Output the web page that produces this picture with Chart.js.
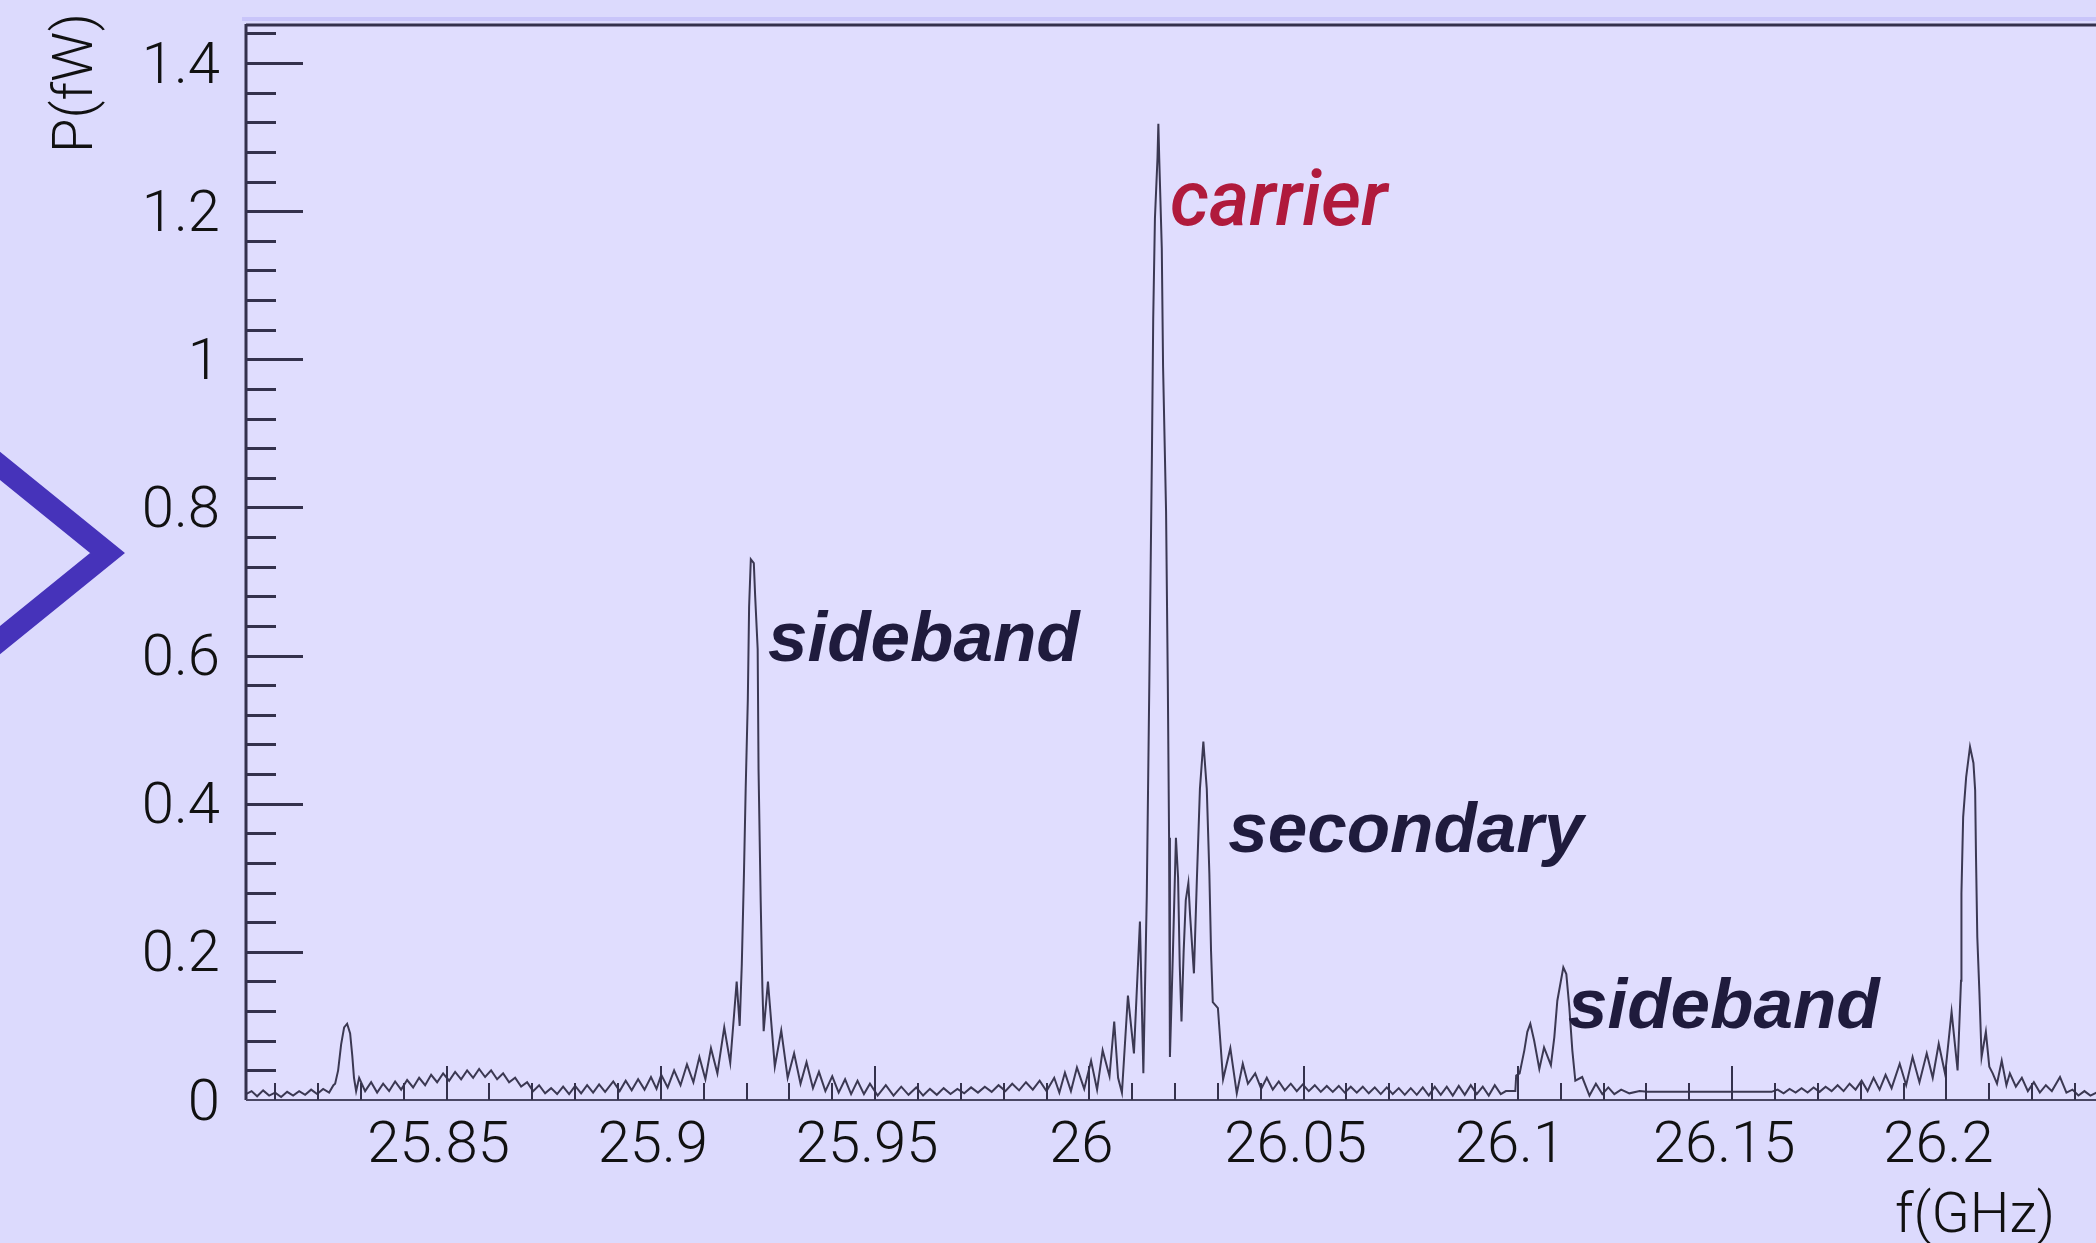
<!DOCTYPE html>
<html>
<head>
<meta charset="utf-8">
<title>P(fW) spectrum</title>
<script src="https://cdn.jsdelivr.net/npm/chart.js@4.4.1/dist/chart.umd.min.js"></script>
<style>
  html, body { margin: 0; padding: 0; background: #dcdafd; overflow: hidden; }
  #spectrum { display: block; }
</style>
</head>
<body>
<canvas id="spectrum" width="2096" height="1243"></canvas>
<script>
// measured spectrum: frequency (GHz) and power (fW)
const freqGHz = [
  25.8032, 25.8045, 25.8058, 25.8072, 25.8086, 25.8100, 25.8114, 25.8128, 25.8142, 25.8156,
  25.8170, 25.8184, 25.8198, 25.8212, 25.8226, 25.8236,
  25.8240, 25.8247, 25.8254, 25.8261, 25.8268, 25.8275, 25.8280, 25.8284, 25.8289,
  25.8296, 25.8310, 25.8324, 25.8338, 25.8352, 25.8366, 25.8380, 25.8394, 25.8408, 25.8422,
  25.8436, 25.8450, 25.8464, 25.8478, 25.8492, 25.8506, 25.8520, 25.8534, 25.8548, 25.8562,
  25.8576, 25.8590, 25.8604, 25.8618, 25.8632, 25.8646, 25.8660, 25.8674, 25.8688, 25.8702,
  25.8716, 25.8730, 25.8744, 25.8758,
  25.8772, 25.8786, 25.8800, 25.8814, 25.8828, 25.8842, 25.8856, 25.8870, 25.8889, 25.8904,
  25.8918, 25.8932, 25.8947, 25.8962, 25.8977, 25.8990, 25.9001, 25.9016, 25.9031, 25.9046,
  25.9061, 25.9076, 25.9090, 25.9104, 25.9117, 25.9132, 25.9148, 25.9162, 25.9177, 25.9184,
  25.9189, 25.9194, 25.9198, 25.9203, 25.9206, 25.9210, 25.9217, 25.9220, 25.9226, 25.9228,
  25.9233, 25.9237, 25.9240, 25.9250, 25.9266, 25.9281, 25.9296, 25.9311, 25.9326, 25.9340,
  25.9355, 25.9369, 25.9384, 25.9400, 25.9415, 25.9430, 25.9444, 25.9459, 25.9474, 25.9488,
  25.9506, 25.9525, 25.9543, 25.9561, 25.9578, 25.9596,
  25.9612, 25.9628, 25.9644, 25.9660, 25.9676, 25.9692, 25.9708, 25.9724, 25.9740, 25.9756,
  25.9772, 25.9788, 25.9804, 25.9820, 25.9836, 25.9852, 25.9868, 25.9884, 25.9900, 25.9918,
  25.9930, 25.9943, 25.9957, 25.9971, 25.9988, 26.0004, 26.0018, 26.0031, 26.0047, 26.0058,
  26.0067, 26.0076, 26.0090, 26.0104, 26.0118, 26.0126,
  26.0134, 26.0140, 26.0146, 26.0149, 26.0153, 26.0159, 26.0161, 26.0163, 26.0169, 26.0172,
  26.0179, 26.0183, 26.0186, 26.0188, 26.0195, 26.0202, 26.0207, 26.0211, 26.0215, 26.0220,
  26.0225, 26.0231, 26.0235, 26.0244, 26.0251, 26.0258, 26.0266, 26.0274, 26.0280, 26.0284,
  26.0288, 26.0300, 26.0312, 26.0329, 26.0344, 26.0358, 26.0370, 26.0387, 26.0401, 26.0414,
  26.0428, 26.0442, 26.0456, 26.0470, 26.0484, 26.0498, 26.0512, 26.0526, 26.0540, 26.0554,
  26.0568, 26.0582, 26.0596, 26.0610, 26.0624, 26.0638, 26.0652, 26.0666, 26.0680, 26.0694,
  26.0708, 26.0722, 26.0736, 26.0750, 26.0764, 26.0778, 26.0792, 26.0806, 26.0820, 26.0834,
  26.0848, 26.0862, 26.0876, 26.0890, 26.0904, 26.0918, 26.0932, 26.0946, 26.0960, 26.0972,
  26.0994, 26.0996, 26.1004, 26.1015, 26.1022, 26.1029, 26.1038, 26.1050, 26.1061, 26.1077,
  26.1085, 26.1092, 26.1106, 26.1113, 26.1120, 26.1127, 26.1134, 26.1150, 26.1167, 26.1182,
  26.1197, 26.1211, 26.1225, 26.1241, 26.1260, 26.1284, 26.1302, 26.1592,
  26.1606, 26.1620, 26.1634, 26.1648, 26.1662, 26.1676, 26.1690, 26.1704, 26.1718, 26.1732,
  26.1746, 26.1760, 26.1774, 26.1788, 26.1802, 26.1816, 26.1830, 26.1844, 26.1858, 26.1872,
  26.1891, 26.1906, 26.1921, 26.1937, 26.1954, 26.1968, 26.1982, 26.1997, 26.2012, 26.2026,
  26.2034, 26.2035, 26.2039, 26.2046, 26.2055, 26.2063, 26.2067, 26.2069, 26.2072, 26.2077,
  26.2082, 26.2092, 26.2100, 26.2108, 26.2118, 26.2129, 26.2140, 26.2148, 26.2162, 26.2176,
  26.2190, 26.2204, 26.2218, 26.2232, 26.2246, 26.2265, 26.2280, 26.2294, 26.2308, 26.2322,
  26.2336, 26.2350
];

const powerFW = [
  0.008, 0.012, 0.005, 0.013, 0.006, 0.010, 0.004, 0.011, 0.006, 0.012,
  0.007, 0.014, 0.008, 0.015, 0.010, 0.020,
  0.022, 0.040, 0.075, 0.098, 0.103, 0.090, 0.060, 0.030, 0.012,
  0.030, 0.012, 0.024, 0.010, 0.022, 0.012, 0.025, 0.014, 0.027, 0.017,
  0.030, 0.020, 0.034, 0.024, 0.036, 0.026, 0.038, 0.028, 0.040, 0.030,
  0.042, 0.031, 0.040, 0.028, 0.036, 0.024, 0.030, 0.018, 0.024, 0.012,
  0.020, 0.009, 0.016, 0.008,
  0.018, 0.008, 0.019, 0.009, 0.020, 0.010, 0.021, 0.011, 0.025, 0.012,
  0.026, 0.013, 0.028, 0.014, 0.031, 0.015, 0.034, 0.017, 0.040, 0.020,
  0.048, 0.024, 0.058, 0.028, 0.070, 0.036, 0.098, 0.050, 0.160, 0.100,
  0.184, 0.306, 0.420, 0.540, 0.666, 0.730, 0.725, 0.682, 0.609, 0.447,
  0.270, 0.152, 0.093, 0.160, 0.045, 0.094, 0.030, 0.063, 0.022, 0.051,
  0.016, 0.038, 0.012, 0.032, 0.010, 0.028, 0.008, 0.026, 0.008, 0.022,
  0.006, 0.020, 0.006, 0.018, 0.007, 0.017,
  0.006, 0.015, 0.007, 0.016, 0.008, 0.015, 0.009, 0.017, 0.010, 0.018,
  0.011, 0.020, 0.012, 0.022, 0.013, 0.024, 0.014, 0.026, 0.012, 0.030,
  0.010, 0.037, 0.012, 0.044, 0.015, 0.053, 0.014, 0.067, 0.032, 0.106,
  0.030, 0.010, 0.141, 0.063, 0.241, 0.036,
  0.276, 0.567, 0.872, 1.055, 1.190, 1.272, 1.318, 1.272, 1.150, 0.990,
  0.794, 0.567, 0.354, 0.058, 0.200, 0.354, 0.300, 0.180, 0.106, 0.200,
  0.270, 0.293, 0.250, 0.171, 0.300, 0.420, 0.484, 0.420, 0.306, 0.200,
  0.132, 0.124, 0.028, 0.070, 0.009, 0.049, 0.022, 0.036, 0.015, 0.030,
  0.014, 0.025, 0.013, 0.022, 0.012, 0.021, 0.012, 0.020, 0.011, 0.019,
  0.011, 0.019, 0.010, 0.018, 0.010, 0.018, 0.009, 0.017, 0.008, 0.017,
  0.008, 0.016, 0.007, 0.016, 0.007, 0.017, 0.006, 0.018, 0.007, 0.018,
  0.006, 0.019, 0.007, 0.020, 0.008, 0.018, 0.006, 0.020, 0.008, 0.012,
  0.012, 0.033, 0.036, 0.067, 0.092, 0.103, 0.080, 0.042, 0.071, 0.047,
  0.085, 0.134, 0.179, 0.170, 0.125, 0.067, 0.026, 0.031, 0.006, 0.022,
  0.008, 0.017, 0.008, 0.014, 0.009, 0.012, 0.011, 0.011,
  0.014, 0.009, 0.015, 0.010, 0.016, 0.010, 0.017, 0.011, 0.018, 0.012,
  0.020, 0.012, 0.022, 0.014, 0.026, 0.012, 0.030, 0.014, 0.034, 0.016,
  0.049, 0.020, 0.058, 0.024, 0.063, 0.030, 0.076, 0.035, 0.119, 0.040,
  0.161, 0.279, 0.382, 0.436, 0.477, 0.455, 0.418, 0.328, 0.220, 0.144,
  0.058, 0.092, 0.045, 0.036, 0.022, 0.053, 0.020, 0.036, 0.018, 0.030,
  0.012, 0.024, 0.010, 0.020, 0.012, 0.031, 0.010, 0.014, 0.006, 0.012,
  0.006, 0.010
];

// peak labels, anchored at (frequency, power) of their left baseline
const noteText = ["sideband", "carrier", "secondary", "sideband"];
const noteFreq = [25.9250, 26.0188, 26.0324, 26.1117];
const notePower = [0.5926, 1.1818, 0.3345, 0.0966];

const freqRange = [25.8032, 26.2349];
const powerRange = [0, 1.45];

const ink = "#34314c";
const tickFont = { family: "Roboto, 'Liberation Sans', sans-serif", size: 58, weight: 300 };

// plot background, frame and the little inward ticks
const frame = {
    id: "frame",
    beforeDraw(chart) {
        const { ctx, chartArea: a } = chart;
        ctx.save();
        ctx.fillStyle = "#dcdafd";
        ctx.fillRect(0, 0, chart.width, chart.height);
        ctx.fillStyle = "#e0ddfe";
        ctx.fillRect(a.left, a.top, a.right - a.left, a.bottom - a.top);
        ctx.fillStyle = "#c9c5fa";
        ctx.fillRect(a.left - 4, a.top - 9, a.right - a.left + 4, 4);
        ctx.restore();
    },
    afterDatasetsDraw(chart) {
        const { ctx, chartArea: a, scales } = chart;
        const x = scales.x;
        const y = scales.y;
        ctx.save();
        ctx.strokeStyle = ink;

        ctx.lineWidth = 3;
        ctx.beginPath();
        ctx.moveTo(a.left, a.top - 1);
        ctx.lineTo(a.right, a.top - 1);
        ctx.moveTo(a.left, a.top - 2);
        ctx.lineTo(a.left, a.bottom);
        ctx.stroke();

        ctx.lineWidth = 2;
        ctx.strokeStyle = "#4a4763";
        ctx.beginPath();
        ctx.moveTo(a.left, a.bottom);
        ctx.lineTo(a.right, a.bottom);
        ctx.stroke();

        // power ticks every 0.04, long ones every 0.2
        ctx.strokeStyle = ink;
        ctx.lineWidth = 3;
        ctx.beginPath();
        for (let i = 1; i <= 36; i++) {
            const py = Math.round(y.getPixelForValue(i * 0.04)) + 0.5;
            const len = i % 5 === 0 ? 57 : 30;
            ctx.moveTo(a.left, py);
            ctx.lineTo(a.left + len, py);
        }
        ctx.stroke();

        // frequency ticks every 0.01 GHz, long ones every 0.05
        ctx.lineWidth = 2;
        ctx.beginPath();
        for (let i = 2581; i <= 2623; i++) {
            const px = Math.round(x.getPixelForValue(i / 100));
            const len = i % 5 === 0 ? 34 : 17;
            ctx.moveTo(px, a.bottom);
            ctx.lineTo(px, a.bottom - len);
        }
        ctx.stroke();
        ctx.restore();
    }
};

// axis titles, peak labels and the chevron at the left edge
const extras = {
    id: "extras",
    afterDraw(chart) {
        const { ctx, scales } = chart;
        ctx.save();

        ctx.fillStyle = "#111111";
        ctx.font = "300 56px Roboto, 'Liberation Sans', sans-serif";
        ctx.textBaseline = "alphabetic";
        ctx.textAlign = "left";
        ctx.fillText("f(GHz)", 1895, 1232);

        ctx.save();
        ctx.translate(92, 83);
        ctx.rotate(-Math.PI / 2);
        ctx.textAlign = "center";
        ctx.fillText("P(fW)", 0, 0);
        ctx.restore();

        noteText.forEach(function (txt, i) {
            const px = scales.x.getPixelForValue(noteFreq[i]);
            const py = scales.y.getPixelForValue(notePower[i]);
            if (txt === "carrier") {
                ctx.fillStyle = "#b01a3c";
                ctx.font = "italic 500 77px Roboto, 'Liberation Sans', sans-serif";
            } else {
                ctx.fillStyle = "#1f1b3d";
                ctx.font = "italic bold 71px 'Liberation Sans', Arial, sans-serif";
            }
            ctx.textAlign = "left";
            ctx.fillText(txt, px, py);
        });

        ctx.strokeStyle = "#4633ba";
        ctx.lineWidth = 22;
        ctx.lineJoin = "miter";
        ctx.beginPath();
        ctx.moveTo(-30, 441.6);
        ctx.lineTo(107.5, 553);
        ctx.lineTo(-30, 664.4);
        ctx.stroke();

        ctx.restore();
    }
};

const canvas = document.getElementById("spectrum");

new Chart(canvas, {
    type: "line",
    data: {
        datasets: [{
            label: "P(fW)",
            data: freqGHz.map(function (f, i) {
                return { x: f, y: powerFW[i] };
            }),
            borderColor: "#3b3852",
            borderWidth: 2,
            pointRadius: 0,
            tension: 0,
            fill: false
        }]
    },
    options: {
        responsive: false,
        devicePixelRatio: 1,
        animation: false,
        events: [],
        layout: {
            padding: { top: 26, left: 0, right: 0, bottom: 0 }
        },
        plugins: {
            legend: { display: false },
            tooltip: { enabled: false }
        },
        scales: {
            x: {
                type: "linear",
                min: freqRange[0],
                max: freqRange[1],
                grid: { display: false, drawTicks: false },
                border: { display: false },
                afterFit: function (s) {
                    s.height = 143;
                    s.paddingLeft = 0;
                    s.paddingRight = 0;
                },
                ticks: {
                    stepSize: 0.05,
                    includeBounds: false,
                    autoSkip: false,
                    maxRotation: 0,
                    padding: 13,
                    labelOffset: -8,
                    color: "#111111",
                    font: tickFont,
                    callback: function (v) { return String(+v.toFixed(2)); }
                }
            },
            y: {
                min: powerRange[0],
                max: powerRange[1],
                grid: { display: false, drawTicks: false },
                border: { display: false },
                afterFit: function (s) {
                    s.width = 246;
                    s.paddingTop = 0;
                    s.paddingBottom = 0;
                },
                ticks: {
                    stepSize: 0.2,
                    includeBounds: false,
                    autoSkip: false,
                    padding: 26,
                    labelOffset: 5,
                    color: "#111111",
                    font: tickFont,
                    callback: function (v) { return String(+v.toFixed(2)); }
                }
            }
        }
    },
    plugins: [frame, extras]
});
</script>
</body>
</html>
